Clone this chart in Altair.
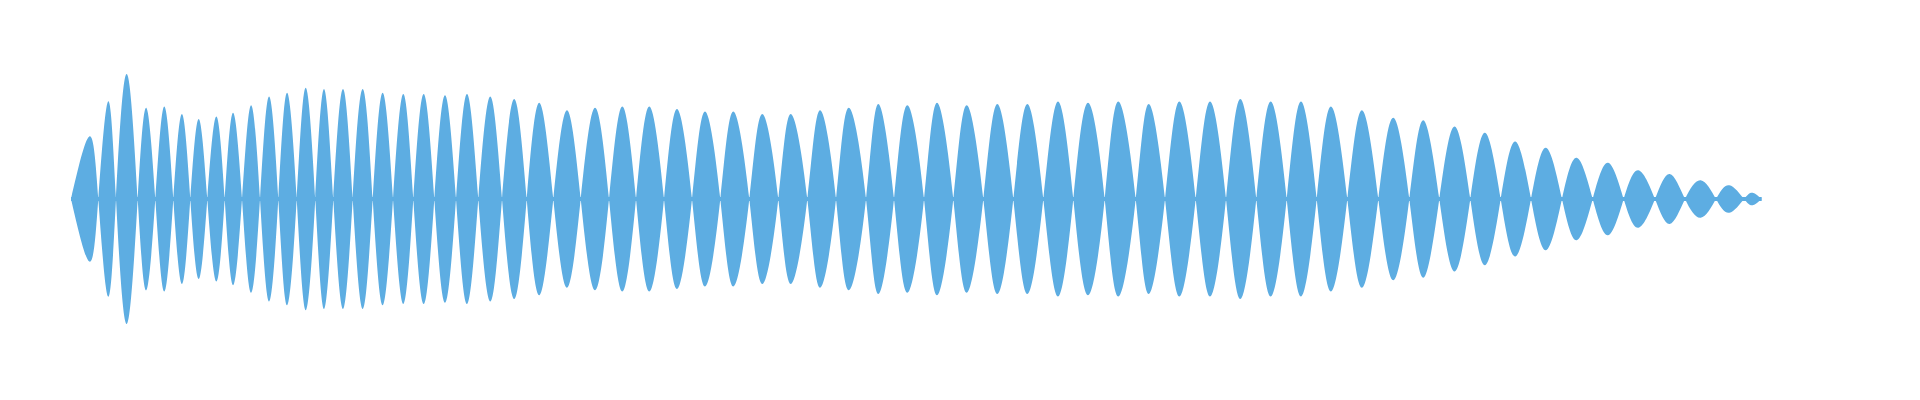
import altair as alt
import pandas as pd

# Zero-crossing positions of the waveform (horizontal position, left to right)
zero_x = [71, 98.3, 116, 137.7, 155.3, 173.3, 190.3, 207.3, 224.7, 242, 260, 278.3,
          296.7, 315.3, 333.3, 352.7, 372.7, 393, 413.3, 434.3, 456, 478.3, 502,
          526.7, 553.3, 580.7, 609, 636, 664, 692, 720.3, 749.3, 778.3, 807.3, 836,
          866, 894, 924, 953.3, 983.3, 1013.3, 1043.3, 1073.3, 1104.7, 1135.7, 1165,
          1195.7, 1226, 1256.3, 1286.7, 1316.7, 1347.3, 1378.3, 1409.3, 1439.3,
          1470.3, 1500.7, 1531, 1562, 1592.7, 1623.7, 1655, 1685, 1716, 1744, 1761.7]

# Peak positions of each lobe
peak_x = [89.3, 108, 126.7, 146.3, 164.3, 182, 198.7, 216.3, 233, 251, 269, 287,
          305.7, 324, 343, 362.7, 382.7, 403.3, 423.7, 445, 467, 490.3, 514.3, 539.3,
          567, 595, 622.3, 649.3, 677, 705, 733.3, 762.3, 790.7, 820, 848.7, 878.3,
          907.3, 937, 966.7, 997.3, 1027.3, 1058, 1088, 1118.3, 1148.7, 1179.3, 1210,
          1240.3, 1270.7, 1301, 1331, 1362, 1393.3, 1423.3, 1454.7, 1485, 1515.3,
          1546, 1576.7, 1608, 1638.3, 1669.7, 1700.7, 1729.3, 1752.7]

# Peak amplitude of each lobe (normalised, max = 1)
peak_amp = [0.50, 0.78, 1.00, 0.73, 0.74, 0.68, 0.64, 0.66, 0.69, 0.75, 0.82, 0.85,
            0.89, 0.88, 0.88, 0.88, 0.85, 0.84, 0.84, 0.83, 0.84, 0.82, 0.80, 0.77,
            0.71, 0.73, 0.74, 0.74, 0.72, 0.70, 0.70, 0.68, 0.68, 0.71, 0.73, 0.76,
            0.75, 0.77, 0.75, 0.76, 0.76, 0.78, 0.77, 0.78, 0.76, 0.78, 0.78, 0.80,
            0.78, 0.78, 0.74, 0.71, 0.65, 0.63, 0.58, 0.53, 0.46, 0.41, 0.33, 0.29,
            0.23, 0.20, 0.15, 0.11, 0.05]

# Thin connecting band along the centre line between lobes
neck_amp = 0.016

COLOR = "#5DADE2"

rows = []
for i, (px, a) in enumerate(zip(peak_x, peak_amp)):
    sign = 1 if i % 2 == 0 else -1
    rows.append({"t": zero_x[i], "v": 0.0})
    rows.append({"t": px, "v": sign * a})
rows.append({"t": zero_x[-1], "v": 0.0})
df = pd.DataFrame(rows)
df["nv"] = -df["v"]

neck_df = pd.DataFrame({"t": [zero_x[0], zero_x[-1]],
                        "v": [neck_amp, neck_amp],
                        "nv": [-neck_amp, -neck_amp]})

xs = alt.Scale(domain=[8, 1912], nice=False, zero=False)
ys = alt.Scale(domain=[-1.544, 1.528], nice=False, zero=False)

enc = dict(
    x=alt.X("t:Q", axis=None, scale=xs),
    y=alt.Y("v:Q", axis=None, scale=ys),
    y2="nv:Q",
)

lobes = alt.Chart(df).mark_area(color=COLOR, interpolate="natural").encode(**enc)
neck = alt.Chart(neck_df).mark_area(color=COLOR).encode(**enc)

chart = (
    alt.layer(neck, lobes)
    .properties(width=1904, height=384, padding=0, autosize=alt.AutoSizeParams(type="none"))
    .configure_view(strokeWidth=0)
)

chart.save("out.html", embed_options={"renderer": "svg", "actions": False})
